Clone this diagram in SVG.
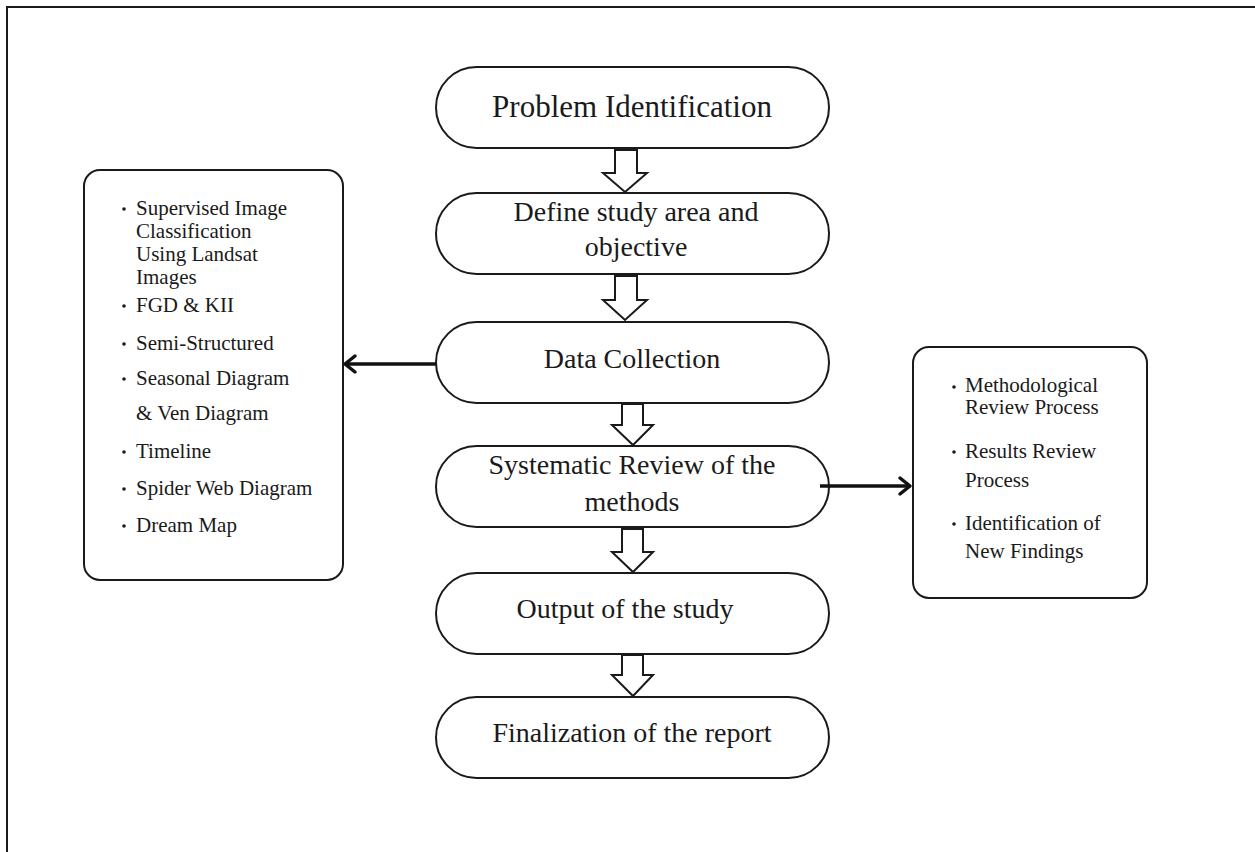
<svg xmlns="http://www.w3.org/2000/svg" width="1255" height="852" viewBox="0 0 1255 852">
<defs>
<style>
.node{fill:#fff;stroke:#1a1a1a;stroke-width:2}
.t{font-family:"Liberation Serif","Times New Roman",serif;fill:#1a1a1a;text-anchor:middle}
.big{font-size:28px}
.lst{font-family:"Liberation Serif","Times New Roman",serif;fill:#1a1a1a;font-size:21px}
.hollow{fill:#fff;stroke:#1a1a1a;stroke-width:2;stroke-linejoin:miter}
.conn{stroke:#111;stroke-width:3.5;fill:none}
.head{stroke:#111;stroke-width:3.5;fill:none;stroke-linecap:round;stroke-linejoin:round}
.bul{fill:#1a1a1a}
</style>
</defs>
<rect width="1255" height="852" fill="#fff"/>
<path d="M7,860 L7,7 L1260,7" fill="none" stroke="#1a1a1a" stroke-width="2"/>

<g id="n1">
<rect class="node" x="436" y="67" width="393" height="81" rx="40.5"/>
<text class="t" x="632" y="117" font-size="31">Problem Identification</text>
</g>
<g id="n2">
<rect class="node" x="436" y="193" width="393" height="81" rx="40.5"/>
<text class="t big" x="636" y="221">Define study area and</text>
<text class="t big" x="636" y="256">objective</text>
</g>
<g id="n3">
<rect class="node" x="436" y="322" width="393" height="81" rx="40.5"/>
<text class="t big" x="632" y="368">Data Collection</text>
</g>
<g id="n4">
<rect class="node" x="436" y="446" width="393" height="81" rx="40.5"/>
<text class="t big" x="632" y="474">Systematic Review of the</text>
<text class="t big" x="632" y="511">methods</text>
</g>
<g id="n5">
<rect class="node" x="436" y="573" width="393" height="81" rx="40.5"/>
<text class="t big" x="625" y="618">Output of the study</text>
</g>
<g id="n6">
<rect class="node" x="436" y="697" width="393" height="81" rx="40.5"/>
<text class="t big" x="632" y="742">Finalization of the report</text>
</g>

<g id="n7">
<rect class="node" x="84" y="170" width="259" height="410" rx="16"/>
<g class="bul">
<circle cx="124" cy="209" r="1.8"/>
<circle cx="124" cy="306" r="1.8"/>
<circle cx="124" cy="344" r="1.8"/>
<circle cx="124" cy="379" r="1.8"/>
<circle cx="124" cy="452" r="1.8"/>
<circle cx="124" cy="489" r="1.8"/>
<circle cx="124" cy="526" r="1.8"/>
</g>
<text class="lst" x="136" y="215">Supervised Image</text>
<text class="lst" x="136" y="238">Classification</text>
<text class="lst" x="136" y="261">Using Landsat</text>
<text class="lst" x="136" y="284">Images</text>
<text class="lst" x="136" y="312">FGD &amp; KII</text>
<text class="lst" x="136" y="350">Semi-Structured</text>
<text class="lst" x="136" y="385">Seasonal Diagram</text>
<text class="lst" x="136" y="420">&amp; Ven Diagram</text>
<text class="lst" x="136" y="458">Timeline</text>
<text class="lst" x="136" y="495">Spider Web Diagram</text>
<text class="lst" x="136" y="532">Dream Map</text>
</g>

<g id="n8">
<rect class="node" x="913" y="347" width="234" height="251" rx="16"/>
<g class="bul">
<circle cx="954" cy="387" r="1.8"/>
<circle cx="954" cy="452" r="1.8"/>
<circle cx="954" cy="524" r="1.8"/>
</g>
<text class="lst" x="965" y="392">Methodological</text>
<text class="lst" x="965" y="414">Review Process</text>
<text class="lst" x="965" y="458">Results Review</text>
<text class="lst" x="965" y="487">Process</text>
<text class="lst" x="965" y="530">Identification of</text>
<text class="lst" x="965" y="558">New Findings</text>
</g>

<g id="connectors">
<path class="hollow" d="M615,150 L637,150 L637,173 L647,173 L625,192 L603,173 L615,173 Z"/>
<path class="hollow" d="M615,276 L637,276 L637,300 L647,300 L625,320 L603,300 L615,300 Z"/>
<path class="hollow" d="M622,404 L643,404 L643,425 L653,425 L633,445 L612,425 L622,425 Z"/>
<path class="hollow" d="M622,529 L643,529 L643,552 L653,552 L633,572 L612,552 L622,552 Z"/>
<path class="hollow" d="M622,655 L643,655 L643,675 L653,675 L633,696 L612,675 L622,675 Z"/>
<line class="conn" x1="436" y1="364" x2="346" y2="364"/>
<path class="head" d="M355,356 L345,364 L355,372"/>
<line class="conn" x1="820" y1="486" x2="909" y2="486"/>
<path class="head" d="M900,478 L910,486 L900,494"/>
</g>
</svg>
